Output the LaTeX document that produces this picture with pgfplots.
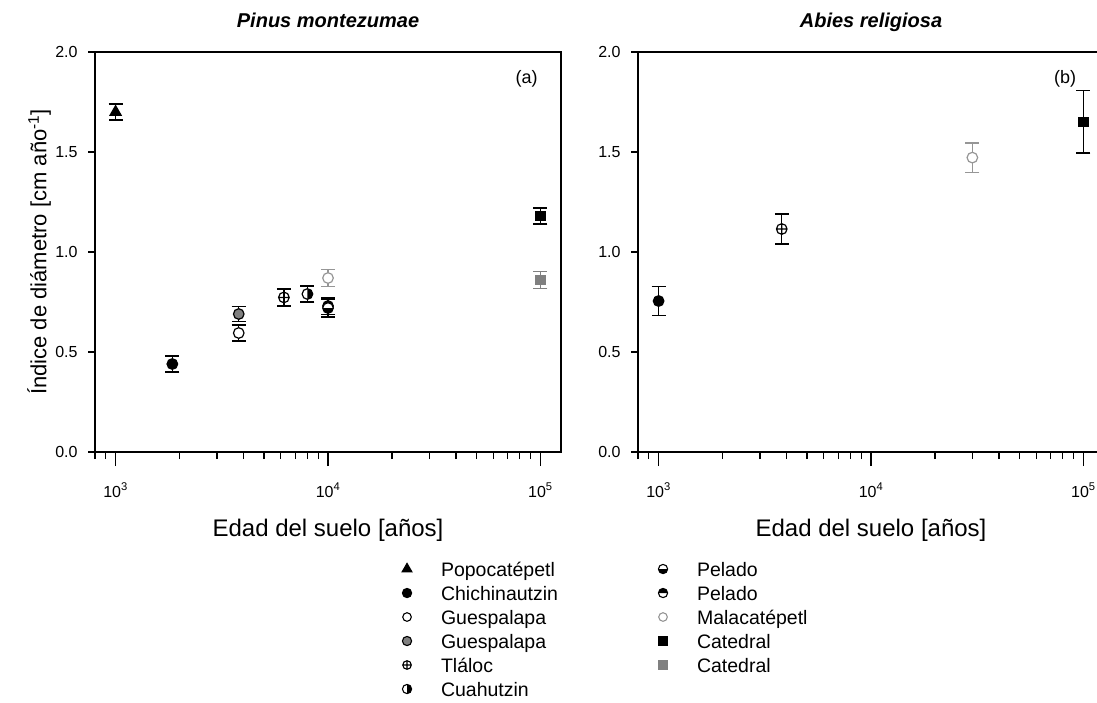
\documentclass[border=0pt]{standalone}
\usepackage{fontspec}
\setmainfont{Liberation Sans}
\usepackage{pgfplots}
\pgfplotsset{compat=1.18}
\usetikzlibrary{plotmarks}

\definecolor{gA}{RGB}{128,128,128}
\definecolor{gB}{RGB}{150,150,150}

% half-filled circles
\pgfdeclareplotmark{hB}{% top white, bottom black
  \pgfpathcircle{\pgfpointorigin}{\pgfplotmarksize}
  \pgfsetfillcolor{white}\pgfusepathqfill
  \pgfpathmoveto{\pgfqpoint{\pgfplotmarksize}{0pt}}
  \pgfpatharc{0}{-180}{\pgfplotmarksize}
  \pgfpathclose
  \pgfsetfillcolor{black}\pgfusepathqfill
  \pgfpathcircle{\pgfpointorigin}{\pgfplotmarksize}
  \pgfusepathqstroke}
\pgfdeclareplotmark{hT}{% top black, bottom white
  \pgfpathcircle{\pgfpointorigin}{\pgfplotmarksize}
  \pgfsetfillcolor{white}\pgfusepathqfill
  \pgfpathmoveto{\pgfqpoint{\pgfplotmarksize}{0pt}}
  \pgfpatharc{0}{180}{\pgfplotmarksize}
  \pgfpathclose
  \pgfsetfillcolor{black}\pgfusepathqfill
  \pgfpathcircle{\pgfpointorigin}{\pgfplotmarksize}
  \pgfusepathqstroke}
\pgfdeclareplotmark{hR}{% left white, right black
  \pgfpathcircle{\pgfpointorigin}{\pgfplotmarksize}
  \pgfsetfillcolor{white}\pgfusepathqfill
  \pgfpathmoveto{\pgfqpoint{0pt}{\pgfplotmarksize}}
  \pgfpatharc{90}{-90}{\pgfplotmarksize}
  \pgfpathclose
  \pgfsetfillcolor{black}\pgfusepathqfill
  \pgfpathcircle{\pgfpointorigin}{\pgfplotmarksize}
  \pgfusepathqstroke}

\begin{document}
\begin{tikzpicture}

% ---------------- (a) Pinus montezumae ----------------
\begin{axis}[
  scale only axis, width=466pt, height=400pt,
  at={(95pt,-452pt)}, anchor=south west,
  xmode=log, xmin=800, xmax=125000, ymin=0, ymax=2,
  axis line style={line width=1.2pt},
  tick style={black, line width=1.2pt},
  tick align=outside, tick pos=left,
  major tick length=14pt, minor tick length=7pt,
  xtick={1000,10000,100000},
  xticklabels={10\textsuperscript{3},10\textsuperscript{4},10\textsuperscript{5}},
  minor xtick={800,900,2000,3000,4000,5000,6000,7000,8000,9000,20000,30000,40000,50000,60000,70000,80000,90000},
  ytick={0,0.5,1,1.5,2}, yticklabels={0.0,0.5,1.0,1.5,2.0},
  minor ytick={0,0.5,1,1.5,2},
  major y tick style={draw=none},
  ticklabel style={font=\fontsize{16}{16}\selectfont},
  xticklabel style={anchor=base, yshift=-31pt},
  yticklabel style={anchor=east},
  title={Pinus montezumae},
  title style={at={(axis description cs:0.5,1.0475)}, anchor=base,
    font=\fontsize{20}{24}\selectfont\bfseries\itshape},
  xlabel={Edad del suelo [años]},
  xlabel style={at={(axis description cs:0.5,-0.21)}, anchor=base,
    font=\fontsize{24}{28}\selectfont},
  ylabel={Índice de diámetro [cm año\textsuperscript{-1}]},
  ylabel style={at={(axis description cs:-0.1041,0.5)}, anchor=base,
    font=\fontsize{22}{26}\selectfont},
  legend cell align=left,
  legend style={at={(0.6567,-0.27)}, anchor=north west,
    draw=none, fill=none, inner sep=0pt, outer sep=0pt, row sep=6pt,
    font=\fontsize{19.5}{22}\selectfont,
    nodes={inner sep=0pt, text height=16pt, text depth=2pt}},
  legend image code/.code={\draw[#1] plot coordinates {(0pt,0pt)};
    \path[draw=none, fill=none] (-6pt,-5pt) rectangle (34pt,5pt);},
  error bars/y dir=both, error bars/y explicit,
  error bars/error bar style={line width=1.4pt},
  error bars/error mark options={rotate=90, mark size=7pt, line width=1.4pt},
]

\addlegendimage{only marks, mark=triangle*, mark size=5.6pt, line width=1.1pt, black}
\addlegendentry{Popocatépetl}
\addlegendimage{only marks, mark=*, mark size=4.6pt, line width=1.1pt, black}
\addlegendentry{Chichinautzin}
\addlegendimage{only marks, mark=*, mark size=4.3pt, line width=1.1pt, draw=black, fill=white}
\addlegendentry{Guespalapa}
\addlegendimage{only marks, mark=*, mark size=4.6pt, line width=1.1pt, draw=black, fill=gA}
\addlegendentry{Guespalapa}
\addlegendimage{only marks, mark=oplus, mark size=4.3pt, line width=1.1pt, black}
\addlegendentry{Tláloc}
\addlegendimage{only marks, mark=hR, mark size=4.6pt, line width=1.1pt, black}
\addlegendentry{Cuahutzin}

% Popocatepetl
\addplot[forget plot, only marks, line width=1.2pt, black, mark=triangle*, mark size=6.3pt]
  coordinates {(1000,1.70) +- (0,0.04)};
% Chichinautzin
\addplot[forget plot, only marks, line width=1.2pt, black, mark=*, mark size=5.3pt]
  coordinates {(1850,0.44) +- (0,0.04)};
% Guespalapa (open)
\addplot[forget plot, only marks, line width=1.2pt, black, mark=*, mark size=5.3pt, mark options={fill=white}]
  coordinates {(3800,0.595) +- (0,0.04)};
% Guespalapa (gray)
\addplot[forget plot, only marks, line width=1.2pt, black, mark=*, mark size=5.3pt, mark options={fill=gA}]
  coordinates {(3800,0.69) +- (0,0.037)};
% Tlaloc
\addplot[forget plot, only marks, line width=1.2pt, black, mark=oplus, mark size=5.3pt, mark options={fill=white}]
  coordinates {(6200,0.773) +- (0,0.043)};
% Cuahutzin
\addplot[forget plot, only marks, line width=1.2pt, black, mark=hR, mark size=5.3pt]
  coordinates {(8000,0.79) +- (0,0.04)};
% Malacatepetl
\addplot[forget plot, only marks, line width=1.2pt, gB, mark=*, mark size=5.3pt, mark options={fill=white}]
  coordinates {(10000,0.87) +- (0,0.042)};
% Pelado
\addplot[forget plot, only marks, line width=1.2pt, black, mark=hT, mark size=5.3pt]
  coordinates {(10000,0.73) +- (0,0.042)};
\addplot[forget plot, only marks, line width=1.2pt, black, mark=hB, mark size=5.3pt]
  coordinates {(10000,0.72) +- (0,0.045)};
% Catedral
\addplot[forget plot, only marks, line width=1.2pt, black, mark=square*, mark size=4.5pt]
  coordinates {(100000,1.18) +- (0,0.04)};
\addplot[forget plot, only marks, line width=1.2pt, gA, mark=square*, mark size=4.5pt]
  coordinates {(100000,0.86) +- (0,0.043)};

\node[anchor=base, font=\fontsize{18}{20}\selectfont] at (axis description cs:0.926,0.9225) {(a)};
\end{axis}

% ---------------- (b) Abies religiosa ----------------
\begin{axis}[
  scale only axis, width=466pt, height=400pt,
  at={(638pt,-452pt)}, anchor=south west,
  xmode=log, xmin=800, xmax=125000, ymin=0, ymax=2,
  axis line style={line width=1.2pt},
  tick style={black, line width=1.2pt},
  tick align=outside, tick pos=left,
  major tick length=14pt, minor tick length=7pt,
  xtick={1000,10000,100000},
  xticklabels={10\textsuperscript{3},10\textsuperscript{4},10\textsuperscript{5}},
  minor xtick={800,900,2000,3000,4000,5000,6000,7000,8000,9000,20000,30000,40000,50000,60000,70000,80000,90000},
  ytick={0,0.5,1,1.5,2}, yticklabels={0.0,0.5,1.0,1.5,2.0},
  minor ytick={0,0.5,1,1.5,2},
  major y tick style={draw=none},
  ticklabel style={font=\fontsize{16}{16}\selectfont},
  xticklabel style={anchor=base, yshift=-31pt},
  yticklabel style={anchor=east},
  title={Abies religiosa},
  title style={at={(axis description cs:0.5,1.0475)}, anchor=base,
    font=\fontsize{20}{24}\selectfont\bfseries\itshape},
  xlabel={Edad del suelo [años]},
  xlabel style={at={(axis description cs:0.5,-0.21)}, anchor=base,
    font=\fontsize{24}{28}\selectfont},
  legend cell align=left,
  legend style={at={(0.0408,-0.27)}, anchor=north west,
    draw=none, fill=none, inner sep=0pt, outer sep=0pt, row sep=6pt,
    font=\fontsize{19.5}{22}\selectfont,
    nodes={inner sep=0pt, text height=16pt, text depth=2pt}},
  legend image code/.code={\draw[#1] plot coordinates {(0pt,0pt)};
    \path[draw=none, fill=none] (-6pt,-5pt) rectangle (34pt,5pt);},
  error bars/y dir=both, error bars/y explicit,
  error bars/error bar style={line width=1.4pt},
  error bars/error mark options={rotate=90, mark size=7pt, line width=1.4pt},
]

\addlegendimage{only marks, mark=hB, mark size=4.6pt, line width=1.1pt, black}
\addlegendentry{Pelado}
\addlegendimage{only marks, mark=hT, mark size=4.6pt, line width=1.1pt, black}
\addlegendentry{Pelado}
\addlegendimage{only marks, mark=*, mark size=4.3pt, line width=1.1pt, draw=gB, fill=white}
\addlegendentry{Malacatépetl}
\addlegendimage{only marks, mark=square*, mark size=4pt, line width=1.1pt, black}
\addlegendentry{Catedral}
\addlegendimage{only marks, mark=square*, mark size=4pt, line width=1.1pt, gA}
\addlegendentry{Catedral}

% Chichinautzin
\addplot[forget plot, only marks, line width=1.2pt, black, mark=*, mark size=5.3pt]
  coordinates {(1000,0.755) +- (0,0.073)};
% Tlaloc
\addplot[forget plot, only marks, line width=1.2pt, black, mark=oplus, mark size=5.3pt, mark options={fill=white}]
  coordinates {(3800,1.115) +- (0,0.075)};
% Malacatepetl
\addplot[forget plot, only marks, line width=1.2pt, gB, mark=*, mark size=5.3pt, mark options={fill=white}]
  coordinates {(30000,1.472) +- (0,0.074)};
% Catedral
\addplot[forget plot, only marks, line width=1.2pt, black, mark=square*, mark size=4.5pt]
  coordinates {(100000,1.652) +- (0,0.157)};

\node[anchor=base, font=\fontsize{18}{20}\selectfont] at (axis description cs:0.9163,0.9225) {(b)};
\end{axis}

\pgfresetboundingbox
\useasboundingbox (0pt,0pt) rectangle (1097pt,-702pt);
\end{tikzpicture}
\end{document}
